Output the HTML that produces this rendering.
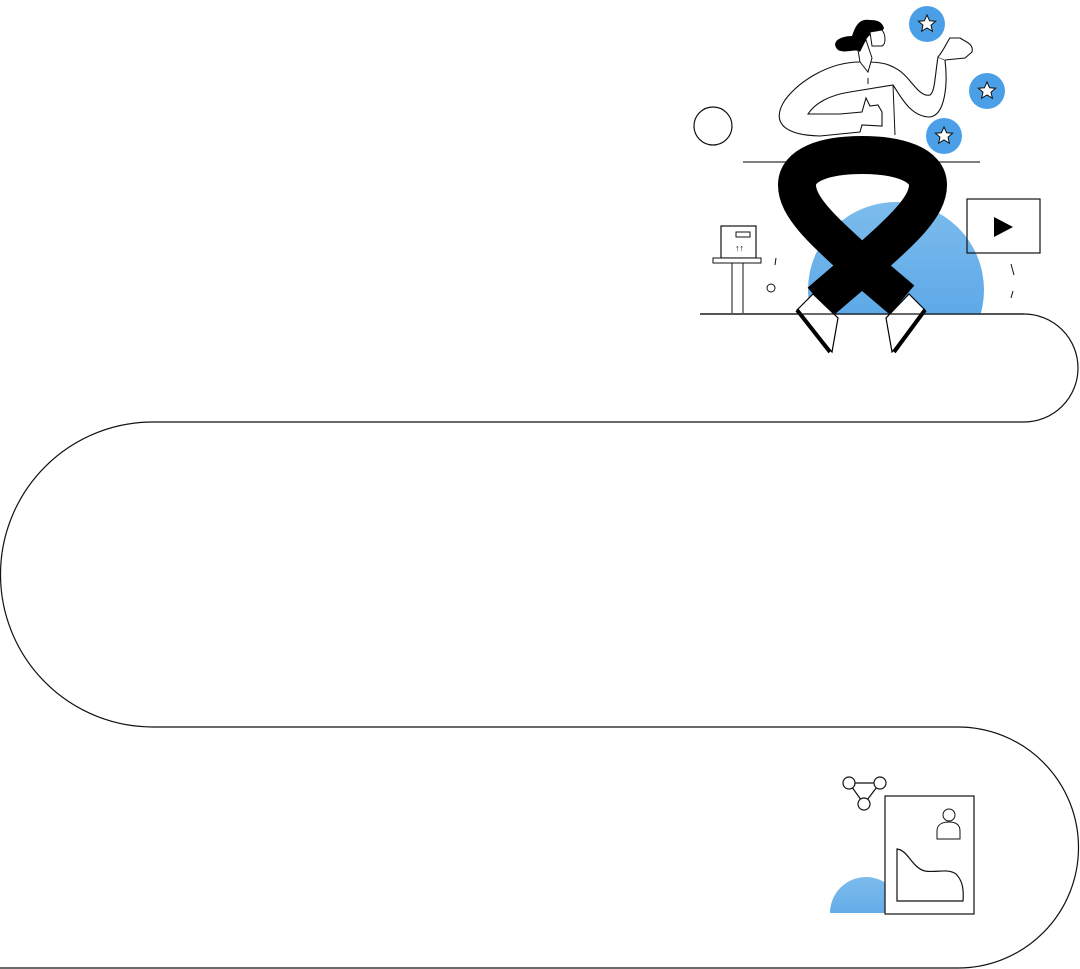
<!DOCTYPE html>
<html><head><style>html,body{margin:0;padding:0;background:#fff;}svg{display:block}</style></head>
<body>
<svg width="1080" height="969" viewBox="0 0 1080 969" xmlns="http://www.w3.org/2000/svg">
<defs>
<linearGradient id="b" x1="0" y1="0" x2="0" y2="1"><stop offset="0" stop-color="#7dbcec"/><stop offset="1" stop-color="#4b9ee6"/></linearGradient>
<clipPath id="c1"><rect x="0" y="0" width="1080" height="314"/></clipPath>
<clipPath id="c2"><rect x="0" y="0" width="1080" height="913"/></clipPath>
</defs>
<path d="M700,314 H1024 A54,54 0 0 1 1024,422 H153 A152.5,152.5 0 0 0 153,727 H958 A120.5,120.5 0 0 1 958,968 H0" fill="none" stroke="#111" stroke-width="1.2"/>
<circle cx="713" cy="126" r="19" fill="none" stroke="#111" stroke-width="1.2"/>
<line x1="743" y1="162" x2="980" y2="162" stroke="#333" stroke-width="1.2"/>
<circle cx="896" cy="290" r="88" fill="url(#b)" clip-path="url(#c1)"/>
<rect x="967" y="199" width="73" height="54" fill="none" stroke="#111" stroke-width="1.2"/>
<polygon points="994,217 994,237 1013,227" fill="#000"/>
<rect x="721" y="226" width="35" height="32" fill="#fff" stroke="#111" stroke-width="1.2"/>
<rect x="736" y="232" width="14" height="5" fill="none" stroke="#111"/>
<text x="735" y="251" font-family="Liberation Sans, sans-serif" font-size="9">↑↑</text>
<rect x="713" y="258" width="48" height="5" fill="#fff" stroke="#111"/>
<line x1="732" y1="263" x2="732" y2="313" stroke="#111"/>
<line x1="743" y1="263" x2="743" y2="313" stroke="#111"/>
<line x1="776" y1="258" x2="775" y2="265" stroke="#111"/>
<circle cx="771" cy="288" r="4" fill="none" stroke="#111"/>
<line x1="1011" y1="264" x2="1014" y2="275" stroke="#111"/>
<line x1="1013" y1="291" x2="1011" y2="298" stroke="#111"/>
<g fill="#4a9fe6"><circle cx="927" cy="24" r="18"/><circle cx="987" cy="91" r="18"/><circle cx="944" cy="136" r="18"/></g>
<g fill="#fff" stroke="#111" stroke-width="1">
<polygon transform="translate(927,24)" points="0,-9 2.6,-3.2 8.6,-2.8 4,1.2 5.4,7.2 0,4 -5.4,7.2 -4,1.2 -8.6,-2.8 -2.6,-3.2"/>
<polygon transform="translate(987,91)" points="0,-9 2.6,-3.2 8.6,-2.8 4,1.2 5.4,7.2 0,4 -5.4,7.2 -4,1.2 -8.6,-2.8 -2.6,-3.2"/>
<polygon transform="translate(944,136)" points="0,-9 2.6,-3.2 8.6,-2.8 4,1.2 5.4,7.2 0,4 -5.4,7.2 -4,1.2 -8.6,-2.8 -2.6,-3.2"/>
</g>
<path d="M860,62 C830,62 800,80 785,100 C772,120 780,135 820,136 L860,132 L862,125 L882,126 L882,112 L878,105 L870,106 L866,98 L862,112 L840,114 L808,114 C815,103 830,95 850,92 L893,85 C900,95 910,117 930,117 C945,115 948,85 945,60 L938,57 C935,75 935,92 930,95 C918,98 910,75 895,68 C885,62 875,62 860,62Z" fill="#fff" stroke="#111" stroke-width="1.1"/>
<path d="M938,57 C944,50 948,40 950,38 L960,38 C966,42 974,44 972,52 L965,58 L945,60" fill="#fff" stroke="#111" stroke-width="1.1"/>
<path d="M860,62 L868,72 L872,58 L866,40 L858,50 Z" fill="#fff" stroke="#111"/>
<path d="M870,20 C858,18 855,28 852,36 C840,36 830,42 838,50 C846,54 856,48 860,52 L866,40 C868,35 874,32 882,32 L884,28 C882,22 878,20 870,20Z" fill="#000"/>
<path d="M882,30 C886,35 886,44 882,46 L872,46 L870,32Z" fill="#fff" stroke="#111"/>
<line x1="868" y1="78" x2="868" y2="84" stroke="#111"/>
<line x1="893" y1="85" x2="895" y2="135" stroke="#111"/>
<path d="M845,140 L842,164 L884,164 L888,140Z" fill="#000"/>
<path d="M820,302 L862,266 C900,232 928,208 928,185 C928,165 900,155 862,155 C824,155 797,165 797,185 C797,208 825,232 862,266 L902,300" fill="none" stroke="#000" stroke-width="38" stroke-linejoin="round"/>
<path d="M797,310 L813,294 L838,318 L832,352 Z" fill="#fff" stroke="#000" stroke-width="1.2"/>
<line x1="797" y1="310" x2="830" y2="352" stroke="#000" stroke-width="4"/>
<path d="M925,310 L909,294 L886,318 L892,352 Z" fill="#fff" stroke="#000" stroke-width="1.2"/>
<line x1="925" y1="310" x2="894" y2="352" stroke="#000" stroke-width="4"/>
<line x1="700" y1="314" x2="1024" y2="314" stroke="#111" stroke-width="1.2"/>
<g fill="#fff" stroke="#111" stroke-width="1.2">
<line x1="849" y1="783" x2="880" y2="783"/><line x1="849" y1="783" x2="864" y2="804"/><line x1="880" y1="783" x2="864" y2="804"/>
<circle cx="849" cy="783" r="6"/><circle cx="880" cy="783" r="6"/><circle cx="864" cy="804" r="6"/>
</g>
<circle cx="866" cy="913" r="36" fill="url(#b)" clip-path="url(#c2)"/>
<rect x="885" y="796" width="89" height="118" fill="#fff" stroke="#111" stroke-width="1.2"/>
<circle cx="949" cy="815" r="6" fill="#fff" stroke="#111"/>
<path d="M937,839 L937,831 C937,824 943,822 949,822 C955,822 960,824 960,831 L960,839Z" fill="#fff" stroke="#111"/>
<path d="M897,849 C908,850 912,868 925,871 C935,873 948,868 956,874 C962,880 964,888 963,901 L897,901Z" fill="none" stroke="#111" stroke-width="1.2"/>
</svg>
</body></html>
